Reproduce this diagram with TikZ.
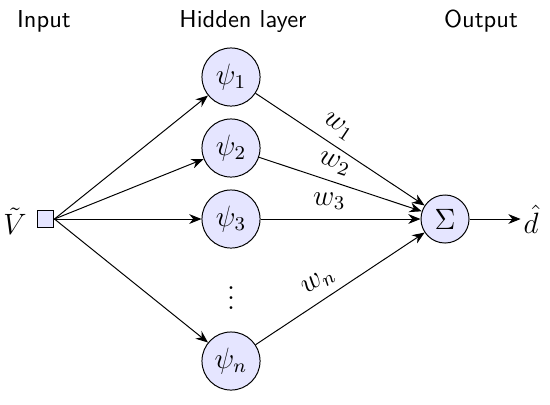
\documentclass[tikz,border=0pt]{standalone}
\usetikzlibrary{arrows.meta}
\begin{document}
\begin{tikzpicture}[x=0.408pt,y=-0.408pt,
  neuron/.style={circle,draw,fill=blue!10,minimum size=23.7pt,inner sep=0pt,font=\large},
  sumnode/.style={circle,draw,fill=blue!10,minimum size=19.6pt,inner sep=0pt,font=\large},
  inbox/.style={rectangle,draw,fill=blue!10,minimum size=6.9pt,inner sep=0pt},
  mathtext/.style={font=\large,inner sep=1pt},
  conn/.style={-{Stealth[length=5pt,width=4pt]}},
  wlabel/.style={above,sloped,pos=0.43,font=\large,inner sep=3.5pt},
  head/.style={font=\sffamily,anchor=base}]
\useasboundingbox (0,0) rectangle (550,404);
\node[head] (hin) at (44,27) {Input};
\node[head] (hhid) at (243,27) {Hidden layer};
\node[head] (hout) at (481,27) {Output};
\node[inbox] (x) at (45.5,219) {};
\node[mathtext] (v) at (15,221) {$\tilde{V}$};
\node[neuron] (p1) at (231,77) {$\psi_1$};
\node[neuron] (p2) at (231,148) {$\psi_2$};
\node[neuron] (p3) at (231,219) {$\psi_3$};
\node[mathtext] (dots) at (231,291) {$\vdots$};
\node[neuron] (pn) at (231,361) {$\psi_n$};
\node[sumnode] (s) at (445,219) {$\Sigma$};
\node[mathtext] (d) at (531,219) {$\hat{d}$};
\foreach \p in {p1,p2,p3,pn} \draw[conn] (x.east) -- (\p);
\draw[conn] (p1) -- node[wlabel] {$w_1$} (s);
\draw[conn] (p2) -- node[wlabel] {$w_2$} (s);
\draw[conn] (p3) -- node[wlabel] {$w_3$} (s);
\draw[conn] (pn) -- node[wlabel] {$w_n$} (s);
\draw[conn] (s) -- (d);
\end{tikzpicture}
\end{document}
